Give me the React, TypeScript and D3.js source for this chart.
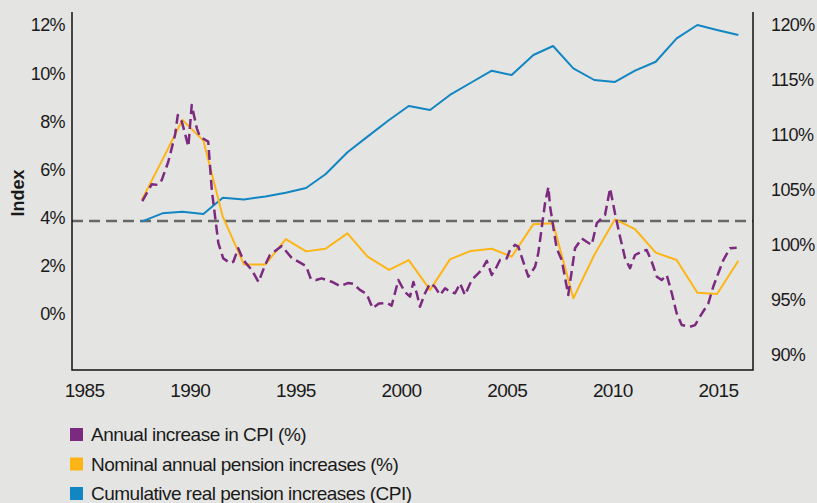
import React from 'react';
import * as d3 from 'd3';

// ---- Data ----
const xTickYears = [1985, 1990, 1995, 2000, 2005, 2010, 2015];
const leftTicks = [0, 2, 4, 6, 8, 10, 12];
const rightTicks = [90, 95, 100, 105, 110, 115, 120];

// yearly observation dates (fractional years)
const annualYears = [
  1987.70, 1988.68, 1989.63, 1990.62, 1991.54, 1992.54, 1993.56, 1994.52, 1995.48, 1996.40,
  1997.44, 1998.39, 1999.41, 2000.34, 2001.35, 2002.29, 2003.28, 2004.27, 2005.21, 2006.24,
  2007.17, 2008.13, 2009.12, 2010.10, 2011.05, 2012.03, 2013.02, 2014.00, 2014.93, 2015.94,
];

// Nominal annual pension increases (%)
const nominalPension = [
  4.73, 6.40, 8.06, 7.20, 4.04, 2.06, 2.06, 3.11, 2.60, 2.71,
  3.35, 2.38, 1.83, 2.24, 1.00, 2.27, 2.62, 2.71, 2.38, 3.73,
  3.77, 0.65, 2.45, 3.93, 3.52, 2.55, 2.24, 0.88, 0.83, 2.21,
];

// Cumulative real pension increases (CPI), right axis (%)
const cumulativeReal = [
  102.12, 102.88, 103.03, 102.82, 104.30, 104.14, 104.41, 104.75, 105.18, 106.43,
  108.43, 109.85, 111.36, 112.64, 112.27, 113.64, 114.75, 115.85, 115.45, 117.27,
  118.09, 116.06, 115.00, 114.82, 115.85, 116.66, 118.79, 120.00, 119.55, 119.09,
];

// Annual increase in CPI (%), sub-annual observations
const cpiYears = [
  1987.73, 1988.18, 1988.46, 1988.65, 1988.96, 1989.28, 1989.41, 1989.60, 1989.75, 1989.91,
  1990.07, 1990.31, 1990.46, 1990.85, 1991.02, 1991.33, 1991.56, 1991.88, 1992.04, 1992.27,
  1992.51, 1992.91, 1993.23, 1993.54, 1993.77, 1994.33, 1994.80, 1995.24, 1995.48, 1995.71,
  1995.95, 1996.22, 1996.69, 1997.09, 1997.48, 1997.72, 1998.03, 1998.35, 1998.63, 1998.93,
  1999.31, 1999.53, 1999.85, 2000.16, 2000.40, 2000.56, 2000.72, 2000.87, 2001.11, 2001.35,
  2001.58, 2001.82, 2002.06, 2002.29, 2002.53, 2002.77, 2003.00, 2003.32, 2003.79, 2004.03,
  2004.27, 2004.50, 2004.66, 2004.98, 2005.13, 2005.37, 2005.53, 2005.76, 2006.00, 2006.32,
  2006.47, 2006.79, 2006.95, 2007.03, 2007.34, 2007.58, 2007.89, 2008.21, 2008.53, 2008.76,
  2009.00, 2009.24, 2009.63, 2009.87, 2010.10, 2010.34, 2010.58, 2010.81, 2011.05, 2011.37,
  2011.60, 2011.84, 2012.08, 2012.31, 2012.55, 2012.79, 2013.02, 2013.26, 2013.65, 2013.89,
  2014.12, 2014.52, 2014.75, 2014.99, 2015.23, 2015.54, 2015.86,
];
const cpiValues = [
  4.69, 5.39, 5.36, 5.56, 6.32, 7.43, 8.26, 7.99, 7.50, 6.95,
  8.68, 7.71, 7.36, 7.16, 5.15, 2.94, 2.31, 2.12, 2.17, 2.73,
  2.24, 1.83, 1.33, 2.03, 2.45, 2.82, 2.33, 2.11, 1.99, 1.45,
  1.41, 1.48, 1.34, 1.16, 1.29, 1.25, 1.00, 0.83, 0.24, 0.44,
  0.46, 0.35, 1.41, 0.91, 0.72, 1.33, 0.86, 0.30, 0.86, 1.27,
  1.13, 0.79, 1.07, 0.93, 0.86, 1.27, 0.79, 1.41, 1.83, 2.21,
  1.62, 1.96, 2.24, 2.31, 2.66, 2.87, 2.79, 2.17, 1.55, 1.96,
  2.52, 4.60, 5.27, 4.46, 2.73, 2.24, 0.79, 2.73, 3.14, 3.00,
  2.87, 3.77, 4.11, 5.22, 4.18, 3.21, 2.31, 1.90, 2.45, 2.59,
  2.66, 2.17, 1.55, 1.41, 1.62, 0.86, 0.03, -0.46, -0.53, -0.46,
  -0.11, 0.44, 1.13, 1.69, 2.24, 2.73, 2.75,
];

const referenceLevel = 3.86;

const legendLabels = [
  'Annual increase in CPI (%)',
  'Nominal annual pension increases (%)',
  'Cumulative real pension increases (CPI)',
];
const legendColors = ['#7b2a7f', '#fdb515', '#1186c3'];

// ---- Layout ----
const W = 817;
const H = 503;
const plotLeft = 72;
const plotRight = 753;
const plotTop = 12;
const plotBottom = 370;
const FONT = '"Liberation Sans", Arial, Helvetica, sans-serif';

export default function App() {
  const x = d3.scaleLinear().domain([1985, 2015]).range([84.6, 718.5]);
  const yL = d3.scaleLinear().domain([0, 12]).range([314, 25]);
  const yR = d3.scaleLinear().domain([90, 120]).range([355, 25]);

  const lineL = d3
    .line<[number, number]>()
    .x((d) => x(d[0]))
    .y((d) => yL(d[1]));
  const lineR = d3
    .line<[number, number]>()
    .x((d) => x(d[0]))
    .y((d) => yR(d[1]));

  const cpiPath = lineL(cpiYears.map((yr, i) => [yr, cpiValues[i]]));
  const nominalPath = lineL(annualYears.map((yr, i) => [yr, nominalPension[i]]));
  const cumPath = lineR(annualYears.map((yr, i) => [yr, cumulativeReal[i]]));

  return (
    <svg
      width={W}
      height={H}
      style={{ position: 'absolute', left: 0, top: 0, display: 'block' }}
      fontFamily={FONT}
    >
      <rect x={0} y={0} width={W} height={H} fill="#e4e4e2" />

      {/* reference dashed line */}
      <line
        x1={plotLeft}
        x2={plotRight}
        y1={yL(referenceLevel)}
        y2={yL(referenceLevel)}
        stroke="#676767"
        strokeWidth={2.5}
        strokeDasharray="11,6"
      />

      {/* series */}
      <path d={cumPath || ''} fill="none" stroke={legendColors[2]} strokeWidth={2} strokeLinejoin="round" />
      <path d={nominalPath || ''} fill="none" stroke={legendColors[1]} strokeWidth={2} strokeLinejoin="round" />
      <path
        d={cpiPath || ''}
        fill="none"
        stroke={legendColors[0]}
        strokeWidth={2.5}
        strokeDasharray="10,5"
        strokeLinejoin="round"
      />

      {/* axes */}
      <path
        d={`M${plotLeft},${plotTop}V${plotBottom}H${plotRight}V${plotTop}`}
        fill="none"
        stroke="#111"
        strokeWidth={1.5}
      />

      {/* left ticks */}
      {leftTicks.map((t) => (
        <text key={'l' + t} x={65} y={yL(t)} dy="0.36em" textAnchor="end" fontSize={18} fill="#1a1a1a" letterSpacing={-0.6}>
          {t}%
        </text>
      ))}
      {/* right ticks */}
      {rightTicks.map((t) => (
        <text key={'r' + t} x={771} y={yR(t)} dy="0.36em" textAnchor="start" fontSize={18} fill="#1a1a1a" letterSpacing={-0.6}>
          {t}%
        </text>
      ))}
      {/* x ticks */}
      {xTickYears.map((t) => (
        <text key={'x' + t} x={x(t)} y={390} dy="0.36em" textAnchor="middle" fontSize={19} fill="#1a1a1a" letterSpacing={-0.6}>
          {t}
        </text>
      ))}

      {/* y axis title */}
      <text
        transform={`translate(18,${193}) rotate(-90)`}
        dy="0.36em"
        textAnchor="middle"
        fontSize={18}
        fontWeight="bold"
        fill="#1a1a1a"
      >
        Index
      </text>

      {/* legend */}
      {legendLabels.map((lab, i) => (
        <g key={lab} transform={`translate(70,${428 + i * 29.5})`}>
          <rect x={0} y={0} width={13} height={13} fill={legendColors[i]} />
          <text x={21} y={6.5} dy="0.36em" fontSize={19} fill="#1a1a1a" letterSpacing={-0.5}>
            {lab}
          </text>
        </g>
      ))}
    </svg>
  );
}
